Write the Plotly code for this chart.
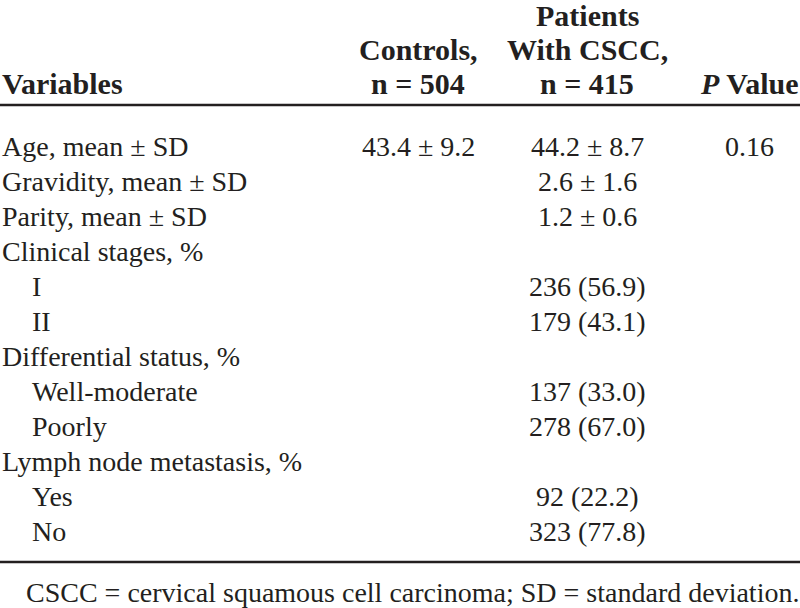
import plotly.graph_objects as go

# ---- data ----
variables = ["Age, mean ± SD", "Gravidity, mean ± SD", "Parity, mean ± SD",
             "Clinical stages, %", "I", "II", "Differential status, %",
             "Well-moderate", "Poorly", "Lymph node metastasis, %", "Yes", "No"]
indent = [0, 0, 0, 0, 1, 1, 0, 1, 1, 0, 1, 1]
controls = ["43.4 ± 9.2", "", "", "", "", "", "", "", "", "", "", ""]
patients = ["44.2 ± 8.7", "2.6 ± 1.6", "1.2 ± 0.6", "", "236 (56.9)", "179 (43.1)",
            "", "137 (33.0)", "278 (67.0)", "", "92 (22.2)", "323 (77.8)"]
pvalues = ["0.16", "", "", "", "", "", "", "", "", "", "", ""]
header_variables = "Variables"
header_controls = ["Controls,", "n = 504"]
header_patients = ["Patients", "With CSCC,", "n = 415"]
header_p = "<i>P</i> Value"
footnote = "CSCC = cervical squamous cell carcinoma; SD = standard deviation."

# ---- layout constants ----
W, H = 800, 608
INK = "#231f20"
FONT = "Liberation Serif, Times New Roman, serif"
BODY = 28
HEAD = 30
X_VAR, X_IND = 1, 31
X_CTRL, X_PAT, X_P = 418, 587, 749
HEAD_Y = [15, 49, 83]
LINE_TOP = 105
ROW0, STEP = 146, 35.0
LINE_BOT = 562
FOOT_Y = 592

ann = []
def add(text, x, y, xanchor="center", size=BODY, bold=False):
    ann.append(dict(text=("<b>%s</b>" % text) if bold else text, x=x, y=y,
                    xref="x", yref="y", xanchor=xanchor, yanchor="middle",
                    showarrow=False, borderpad=0,
                    font=dict(family=FONT, size=size, color=INK)))

# header
add(header_variables, X_VAR, HEAD_Y[2], "left", HEAD, True)
for i, t in enumerate(header_controls):
    add(t, X_CTRL, HEAD_Y[1 + i], "center", HEAD, True)
for i, t in enumerate(header_patients):
    add(t, X_PAT, HEAD_Y[i], "center", HEAD, True)
add(header_p, 800, HEAD_Y[2], "right", HEAD, True)

# body
for i, v in enumerate(variables):
    y = ROW0 + i * STEP
    add(v, X_IND if indent[i] else X_VAR, y, "left")
    if controls[i]:
        add(controls[i], X_CTRL, y)
    if patients[i]:
        add(patients[i], X_PAT, y)
    if pvalues[i]:
        add(pvalues[i], X_P, y)

add(footnote, 800, FOOT_Y, "right", BODY)

shapes = [
    dict(type="line", xref="x", yref="y", x0=0, x1=W, y0=LINE_TOP, y1=LINE_TOP,
         line=dict(color=INK, width=2.5)),
    dict(type="line", xref="x", yref="y", x0=0, x1=W, y0=LINE_BOT, y1=LINE_BOT,
         line=dict(color=INK, width=2.5)),
]

fig = go.Figure()
fig.update_layout(
    width=W, height=H, margin=dict(l=0, r=0, t=0, b=0, pad=0),
    paper_bgcolor="white", plot_bgcolor="white",
    xaxis=dict(range=[0, W], visible=False, fixedrange=True),
    yaxis=dict(range=[H, 0], visible=False, fixedrange=True),
    annotations=ann, shapes=shapes, showlegend=False,
)
fig.write_html("out.html", config={"displayModeBar": False},
               post_script="document.body.style.margin='0';document.body.style.overflow='hidden';")
